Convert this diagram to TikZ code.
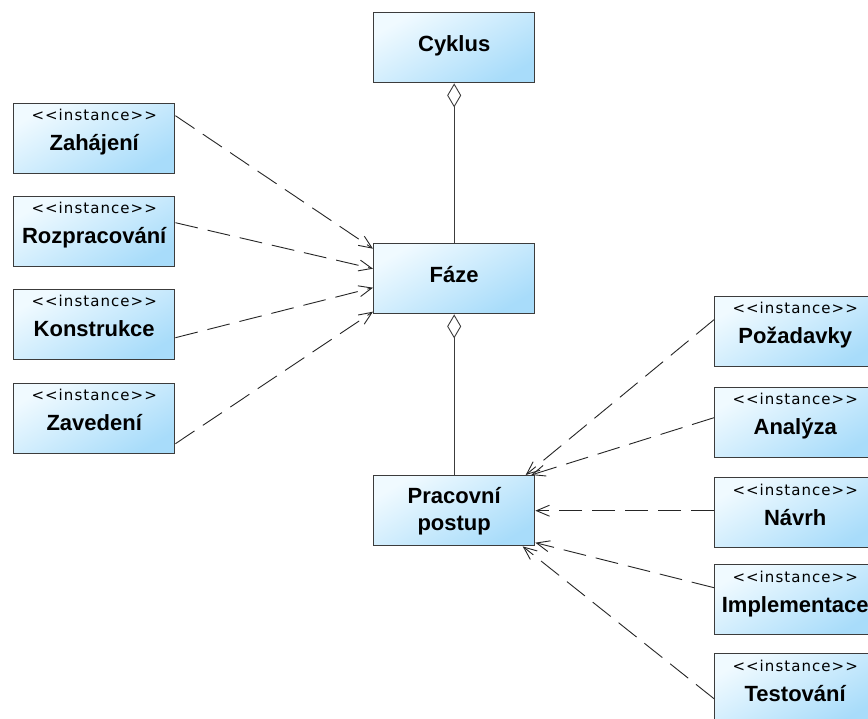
\documentclass[tikz,border=0pt]{standalone}
\usepackage{fontspec}
\setmainfont{Liberation Sans}
\newfontfamily\stereofont{DejaVu Sans}[LetterSpace=7]
\usetikzlibrary{arrows.meta}

\definecolor{boxlight}{RGB}{240,250,255}
\definecolor{boxblue}{RGB}{168,220,250}
\definecolor{edge}{RGB}{60,60,60}

\tikzset{
  umlbox/.style={draw=edge, line width=1.4pt, minimum width=161pt,
    minimum height=70pt, inner sep=0pt, anchor=north west,
    top color=boxlight, bottom color=boxblue, shading angle=30},
  stereo/.style={anchor=base, inner sep=0pt,
    font=\stereofont\fontsize{15}{18}\selectfont},
  title/.style={anchor=base, inner sep=0pt,
    font=\bfseries\fontsize{22}{26}\selectfont},
  realize/.style={draw=black!85, line width=0.9pt,
    dash pattern=on 23pt off 10pt,
    -{Straight Barb[length=13pt,width=11pt,line width=0.9pt]}},
  agg/.style={draw=edge, line width=1.3pt,
    -{Diamond[open,fill=white,length=24pt,width=14pt,line width=0.9pt]}}
}

% an <<instance>> object box: name, left, top, label
\newcommand\instbox[4]{%
  \node[umlbox] (#1) at (#2,#3) {};
  \node[stereo] (#1-st) at ([yshift=-18pt]#1.north) {{<}{<}instance{>}{>}};
  \node[title] (#1-nm) at ([yshift=-48pt]#1.north) {#4};
}

\begin{document}
\begin{tikzpicture}[x=1pt,y=-1pt]
  \clip (0,0) rectangle (868,719);
  \fill[white] (0,0) rectangle (868,719);

  % classes
  \node[umlbox] (cyk) at (373,12) {};
  \node[title] (cyk-nm) at ([yshift=-40pt]cyk.north) {Cyklus};
  \node[umlbox] (faze) at (373,243) {};
  \node[title] (faze-nm) at ([yshift=-40pt]faze.north) {Fáze};
  \node[umlbox] (prac) at (373,475) {};
  \node[title] (prac-a) at ([yshift=-28pt]prac.north) {Pracovní};
  \node[title] (prac-b) at ([yshift=-55pt]prac.north) {postup};

  % phase instances
  \instbox{zah}{13}{103}{Zahájení}
  \instbox{roz}{13}{196}{Rozpracování}
  \instbox{kon}{13}{289}{Konstrukce}
  \instbox{zav}{13}{383}{Zavedení}

  % workflow instances
  \instbox{poz}{714}{296}{Požadavky}
  \instbox{ana}{714}{387}{Analýza}
  \instbox{nav}{714}{477}{Návrh}
  \instbox{imp}{714}{564}{Implementace}
  \instbox{tst}{714}{653}{Testování}

  % aggregations
  \draw[agg] (faze.north) -- (cyk.south);
  \draw[agg] (prac.north) -- (faze.south);

  % instance-of dependencies
  \draw[realize] ([yshift=23pt]zah.east) -- ([yshift=30pt]faze.west);
  \draw[realize] ([yshift=9pt]roz.east) -- ([yshift=10pt]faze.west);
  \draw[realize] ([yshift=-13pt]kon.east) -- ([yshift=-9pt]faze.west);
  \draw[realize] ([yshift=-25pt]zav.east) -- ([yshift=-33pt]faze.west);

  \draw[realize] ([yshift=12pt]poz.west) -- ([xshift=71.5pt]prac.north);
  \draw[realize] ([yshift=5pt]ana.west) -- ([xshift=77pt]prac.north);
  \draw[realize] (nav.west |- prac.east) -- (prac.east);
  \draw[realize] ([yshift=12pt]imp.west) -- ([yshift=-32pt]prac.east);
  \draw[realize] ([yshift=-10pt]tst.west) -- ([xshift=68.5pt]prac.south);
\end{tikzpicture}
\end{document}
